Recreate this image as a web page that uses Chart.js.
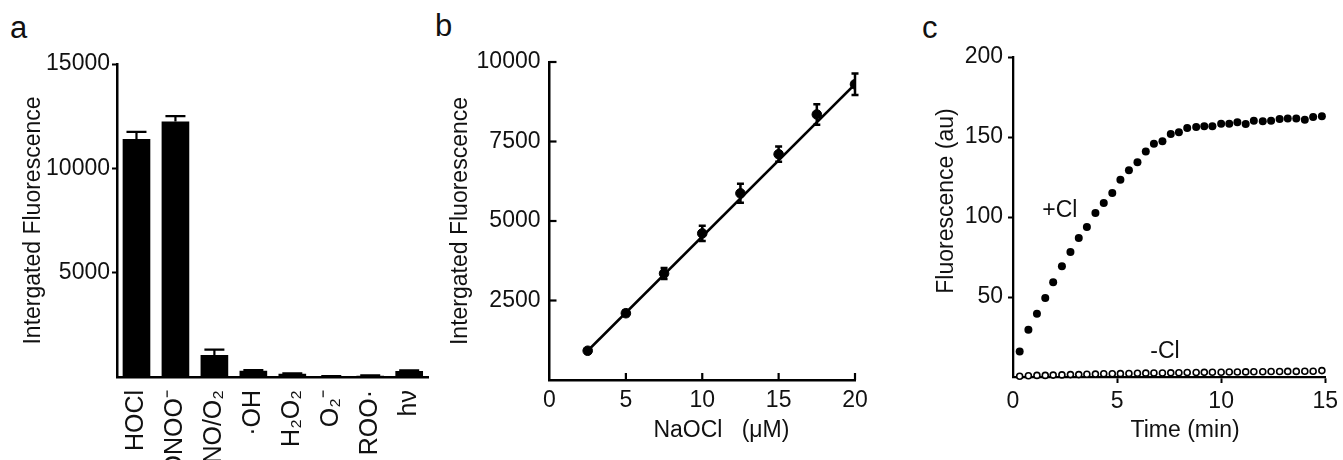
<!DOCTYPE html>
<html><head><meta charset="utf-8">
<script src="https://cdn.jsdelivr.net/npm/chart.js@4.4.0/dist/chart.umd.min.js"></script>
<style>
html,body{margin:0;padding:0;background:#fff;}
body{width:1343px;height:460px;overflow:hidden;position:relative;font-family:"Liberation Sans",Arial,sans-serif;}
.box{position:absolute;top:0;height:460px;}
.plabel{position:absolute;font-size:31px;line-height:31px;color:#111;font-family:"Liberation Sans",Arial,sans-serif;}
</style></head><body>
<div class="plabel" style="left:10px;top:12px">a</div>
<div class="plabel" style="left:435px;top:10px">b</div>
<div class="plabel" style="left:922px;top:12px">c</div>
<div class="box" style="left:0;width:445px"><canvas id="ca"></canvas></div>
<div class="box" style="left:430px;width:450px"><canvas id="cb"></canvas></div>
<div class="box" style="left:915px;width:428px"><canvas id="cc"></canvas></div>
<script>
// ---------- Panel a ----------
const speciesLabels = ['HOCl','ONOO⁻','NO/O₂','·OH','H₂O₂','O₂⁻','ROO·','hν'];
const speciesValues = [11400, 12250, 1060, 300, 150, 30, 60, 290];
const speciesErrors = [350, 250, 250, 30, 20, 10, 15, 30];

// ---------- Panel b ----------
const naoclConc   = [2.5, 5, 7.5, 10, 12.5, 15, 17.5, 20];
const naoclSignal = [920, 2100, 3350, 4610, 5870, 7100, 8350, 9300];
const naoclError  = [40, 90, 170, 240, 300, 240, 320, 340];
const fitConc   = [2.5, 20];
const fitSignal = [920, 9300];

// ---------- Panel c ----------
const timeMin = [0.32,0.74,1.15,1.55,1.93,2.35,2.76,3.16,3.55,3.96,4.36,4.77,5.16,5.57,5.98,6.38,6.77,7.18,7.58,7.97,8.37,8.80,9.19,9.58,10.0,10.39,10.78,11.18,11.57,12.0,12.4,12.81,13.2,13.61,14.02,14.42,14.84];
const plusCl  = [16.0,29.6,39.6,49.4,59.2,69.2,78.1,86.9,93.8,102.5,108.8,115.0,123.3,129.2,134.2,141.0,145.8,147.3,151.9,152.9,155.6,156.3,156.7,156.7,158.3,158.3,159.2,158.1,160.2,159.8,160.2,161.3,161.5,161.5,160.8,162.5,162.9];
const minusCl = [0.5,0.8,1.0,1.0,1.2,1.3,1.5,1.5,1.7,1.8,2.0,2.0,2.1,2.2,2.3,2.4,2.5,2.5,2.6,2.7,2.8,2.8,2.9,3.0,3.0,3.1,3.1,3.2,3.3,3.3,3.4,3.4,3.5,3.5,3.6,3.6,4.0];
const annotText = ['+Cl', '-Cl'];
const annotX = [2.25, 7.3];
const annotY = [104, 16];

const FONT = "'Liberation Sans', Arial, sans-serif";
const FS = 23;
Chart.defaults.font.family = FONT;
Chart.defaults.color = '#111';
Chart.defaults.animation = false;

function hideZero(v){ return v === 0 ? '' : v; }
function tickCol(ctx){ return (ctx.tick && ctx.tick.value === 0) ? 'rgba(0,0,0,0)' : '#000'; }

const errorBars = {
  id: 'errorBars',
  afterDatasetsDraw(chart, args, opts) {
    if (!opts || !opts.errors) return;
    const meta = chart.getDatasetMeta(opts.dataset);
    const ys = chart.scales.y;
    const data = chart.data.datasets[opts.dataset].data;
    const ctx = chart.ctx;
    ctx.save();
    ctx.strokeStyle = '#000';
    ctx.lineWidth = opts.width || 2;
    meta.data.forEach((el, i) => {
      const d = data[i];
      const v = (typeof d === 'object') ? d.y : d;
      const e = opts.errors[i];
      const x = el.x;
      const yt = ys.getPixelForValue(v + e);
      const yb = opts.both ? ys.getPixelForValue(v - e) : ys.getPixelForValue(v);
      const hw = opts.cap / 2;
      ctx.beginPath();
      ctx.moveTo(x, yb); ctx.lineTo(x, yt);
      ctx.moveTo(x - hw, yt); ctx.lineTo(x + hw, yt);
      if (opts.both) { ctx.moveTo(x - hw, yb); ctx.lineTo(x + hw, yb); }
      ctx.stroke();
    });
    ctx.restore();
  }
};

const innerTicks = {
  id: 'innerTicks',
  afterDraw(chart, args, opts) {
    if (!opts || !opts.axes) return;
    const ctx = chart.ctx;
    ctx.save();
    ctx.strokeStyle = '#000';
    ctx.lineWidth = opts.width || 2;
    opts.axes.forEach(id => {
      const s = chart.scales[id];
      s.ticks.forEach(t => {
        if (t.value === 0) return;
        const p = s.getPixelForValue(t.value);
        ctx.beginPath();
        if (s.isHorizontal()) { ctx.moveTo(p, s.top); ctx.lineTo(p, s.top - opts.len); }
        else { ctx.moveTo(s.right, p); ctx.lineTo(s.right + opts.len, p); }
        ctx.stroke();
      });
    });
    ctx.restore();
  }
};

const annotations = {
  id: 'annotations',
  afterDraw(chart, args, opts) {
    if (!opts || !opts.text) return;
    const ctx = chart.ctx;
    ctx.save();
    ctx.fillStyle = '#111';
    ctx.font = opts.size + 'px ' + FONT;
    ctx.textAlign = 'center';
    ctx.textBaseline = 'middle';
    opts.text.forEach((t, i) => {
      ctx.fillText(t, chart.scales.x.getPixelForValue(opts.x[i]), chart.scales.y.getPixelForValue(opts.y[i]));
    });
    ctx.restore();
  }
};

// ---------- Chart a ----------
new Chart(document.getElementById('ca'), {
  type: 'bar',
  data: {
    labels: speciesLabels,
    datasets: [{ data: speciesValues, backgroundColor: '#000', borderWidth: 0,
                 barPercentage: 0.71, categoryPercentage: 1 }]
  },
  plugins: [errorBars],
  options: {
    responsive: true, maintainAspectRatio: false,
    layout: { autoPadding: false, padding: { top: 64, right: 13, bottom: 0, left: 0 } },
    plugins: { legend: { display: false }, tooltip: { enabled: false },
               errorBars: { dataset: 0, errors: speciesErrors, cap: 20, width: 2.2, both: false } },
    scales: {
      x: {
        grid: { display: false },
        border: { display: true, color: '#000', width: 2.5 },
        ticks: { minRotation: 90, maxRotation: 90, autoSkip: false, padding: 5,
                 font: { size: 25 }, color: '#111' },
        afterFit: s => { s.height = 83; }
      },
      y: {
        min: 0, max: 15000,
        ticks: { stepSize: 5000, callback: hideZero, padding: 2, font: { size: FS }, color: '#111' },
        grid: { display: true, drawOnChartArea: false, drawTicks: true, tickLength: 5,
                tickWidth: 2, tickColor: tickCol },
        border: { display: true, color: '#000', width: 2.5 },
        title: { display: true, text: 'Intergated Fluorescence', font: { size: FS },
                 color: '#111', padding: { top: 19.5, bottom: 0 } },
        afterFit: s => { s.width = 117; }
      }
    }
  }
});

// ---------- Chart b ----------
new Chart(document.getElementById('cb'), {
  type: 'scatter',
  data: {
    datasets: [
      { type: 'line', data: fitConc.map((x, i) => ({ x, y: fitSignal[i] })),
        borderColor: '#000', borderWidth: 2.5, pointRadius: 0, fill: false },
      { data: naoclConc.map((x, i) => ({ x, y: naoclSignal[i] })),
        backgroundColor: '#000', borderColor: '#000', pointRadius: 4.8, showLine: false }
    ]
  },
  plugins: [errorBars, innerTicks],
  options: {
    responsive: true, maintainAspectRatio: false,
    layout: { autoPadding: false, padding: { top: 62, right: 25, bottom: 0, left: 0 } },
    plugins: { legend: { display: false }, tooltip: { enabled: false },
               errorBars: { dataset: 1, errors: naoclError, cap: 7, width: 2.5, both: true },
               innerTicks: { axes: ['x', 'y'], len: 7, width: 2.2 } },
    scales: {
      x: {
        type: 'linear', min: 0, max: 20,
        ticks: { stepSize: 5, padding: 7, font: { size: FS }, color: '#111' },
        grid: { display: false, drawTicks: false },
        border: { display: true, color: '#000', width: 2.5 },
        title: { display: true, text: '      NaOCl   (μM)', font: { size: FS }, color: '#111',
                 padding: { top: 0, bottom: 15.5 } },
        afterFit: s => { s.height = 80; }
      },
      y: {
        min: 0, max: 10000,
        ticks: { stepSize: 2500, callback: hideZero, padding: 9, font: { size: FS }, color: '#111' },
        grid: { display: false, drawTicks: false },
        border: { display: true, color: '#000', width: 2.5 },
        title: { display: true, text: 'Intergated Fluorescence', font: { size: FS },
                 color: '#111', padding: { top: 17, bottom: 0 } },
        afterFit: s => { s.width = 119.5; }
      }
    }
  }
});

// ---------- Chart c ----------
new Chart(document.getElementById('cc'), {
  type: 'scatter',
  data: {
    datasets: [
      { data: timeMin.map((x, i) => ({ x, y: plusCl[i] })),
        backgroundColor: '#000', borderColor: '#000', pointRadius: 4, borderWidth: 0, clip: false },
      { data: timeMin.map((x, i) => ({ x, y: minusCl[i] })),
        backgroundColor: '#fff', borderColor: '#000', pointRadius: 3, borderWidth: 1.6, clip: false }
    ]
  },
  plugins: [annotations],
  options: {
    responsive: true, maintainAspectRatio: false,
    layout: { autoPadding: false, padding: { top: 57, right: 12, bottom: 0, left: 0 } },
    plugins: { legend: { display: false }, tooltip: { enabled: false },
               annotations: { text: annotText, x: annotX, y: annotY, size: FS } },
    scales: {
      x: {
        type: 'linear', min: 0, max: 15,
        ticks: { stepSize: 5, padding: 5, font: { size: FS }, color: '#111' },
        grid: { display: true, drawOnChartArea: false, drawTicks: true, tickLength: 6,
                tickWidth: 2, tickColor: tickCol },
        border: { display: true, color: '#000', width: 2.3 },
        title: { display: true, text: '     Time (min)', font: { size: FS }, color: '#111',
                 padding: { top: 0, bottom: 15.5 } },
        afterFit: s => { s.height = 83; }
      },
      y: {
        min: 0, max: 200,
        ticks: { stepSize: 50, callback: hideZero, padding: 5, font: { size: FS }, color: '#111' },
        grid: { display: true, drawOnChartArea: false, drawTicks: true, tickLength: 5,
                tickWidth: 2, tickColor: tickCol },
        border: { display: true, color: '#000', width: 2.3 },
        title: { display: true, text: '     Fluorescence (au)', font: { size: FS },
                 color: '#111', padding: { top: 18, bottom: 0 } },
        afterFit: s => { s.width = 98; }
      }
    }
  }
});
</script>
</body></html>
